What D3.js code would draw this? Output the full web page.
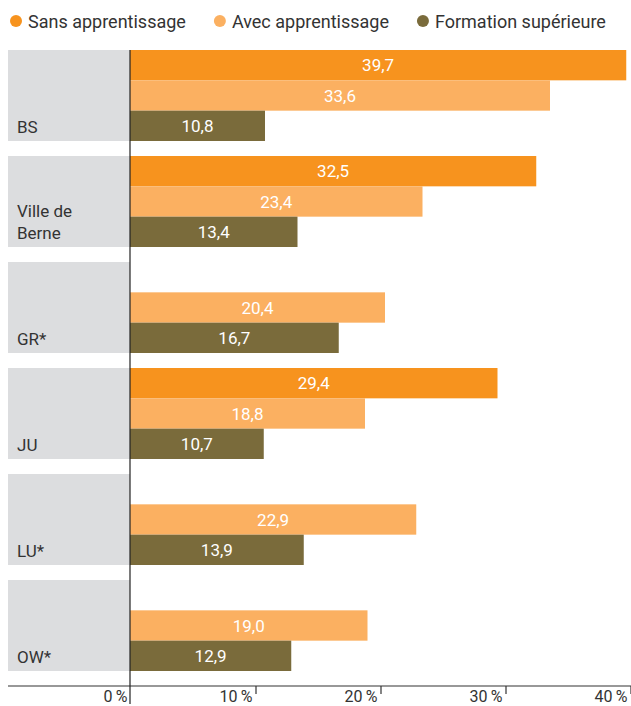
<!DOCTYPE html>
<html>
<head>
<meta charset="utf-8">
<script src="https://cdn.jsdelivr.net/npm/d3@7"></script>
<style>
  html, body { margin: 0; padding: 0; background: #fff; }
  svg { display: block; font-family: Roboto, "Noto Sans", sans-serif; }
</style>
</head>
<body>
<svg id="chart" width="631" height="706"></svg>
<script>
// Share of people (%) per region and education level
const regions = ["BS", "Ville de Berne", "GR*", "JU", "LU*", "OW*"];
const regionLines = [["BS"], ["Ville de", "Berne"], ["GR*"], ["JU"], ["LU*"], ["OW*"]];
const seriesNames = ["Sans apprentissage", "Avec apprentissage", "Formation supérieure"];
const sansApprentissage = [39.7, 32.5, null, 29.4, null, null];
const avecApprentissage = [33.6, 23.4, 20.4, 18.8, 22.9, 19.0];
const formationSuperieure = [10.8, 13.4, 16.7, 10.7, 13.9, 12.9];
const tickValues = [0, 10, 20, 30, 40];
const colors = ["#f7931e", "#fbb061", "#7a6b3b"];

const series = [sansApprentissage, avecApprentissage, formationSuperieure];

const svg = d3.select("#chart");
const fmt = v => d3.format(".1f")(v).replace(".", ",");

const x = d3.scaleLinear().domain([0, 40]).range([130, 630]);
const groupY = d3.scaleBand().domain(regions).range([50, 671]).paddingInner(15 / 106).paddingOuter(0);
const barY = d3.scaleBand().domain(seriesNames).range([0, groupY.bandwidth()]);

// Legend
const legend = svg.append("g").attr("class", "legend");
let lx = 16;
seriesNames.forEach((name, i) => {
  legend.append("circle").attr("cx", lx).attr("cy", 21).attr("r", 6).attr("fill", colors[i]);
  const t = legend.append("text").attr("x", lx + 12).attr("y", 27.5)
    .attr("font-size", 18).attr("fill", "#333").text(name);
  lx += 12 + t.node().getComputedTextLength() + 34;
});

// Region groups
const groups = svg.append("g").selectAll("g").data(regions).join("g")
  .attr("transform", d => `translate(0,${groupY(d)})`);

groups.append("rect").attr("x", 8).attr("y", 0)
  .attr("width", x(0) - 8).attr("height", groupY.bandwidth()).attr("fill", "#dcdddf");

groups.each(function(region, ri) {
  const g = d3.select(this);
  const lines = regionLines[ri];
  lines.forEach((line, li) => {
    g.append("text").attr("x", 17)
      .attr("y", groupY.bandwidth() - 8 - (lines.length - 1 - li) * 22)
      .attr("font-size", 17).attr("fill", "#333").text(line);
  });
  series.forEach((vals, si) => {
    const v = vals[ri];
    if (v == null) return;
    g.append("rect").attr("x", x(0)).attr("y", barY(seriesNames[si]))
      .attr("width", x(v) - x(0)).attr("height", barY.bandwidth()).attr("fill", colors[si]);
    g.append("text").attr("x", (x(0) + x(v)) / 2)
      .attr("y", barY(seriesNames[si]) + barY.bandwidth() / 2 + 6)
      .attr("text-anchor", "middle").attr("font-size", 17).attr("fill", "#fff")
      .text(fmt(v));
  });
});

// Axis
const axisY = 686;
svg.append("line").attr("x1", 8).attr("x2", 631).attr("y1", axisY).attr("y2", axisY)
  .attr("stroke", "#333").attr("stroke-width", 1.2);
svg.append("line").attr("x1", x(0)).attr("x2", x(0)).attr("y1", 50).attr("y2", 704)
  .attr("stroke", "#222").attr("stroke-width", 1.2);

const axis = d3.axisBottom(x).tickValues(tickValues).tickSize(8).tickFormat(d => d + "\u2009%");
const ag = svg.append("g").attr("transform", `translate(0,${axisY})`).call(axis);
ag.select(".domain").remove();
ag.selectAll(".tick line").attr("stroke", "#333").attr("stroke-width", 1.2)
  .attr("x1", 0.5).attr("x2", 0.5);
ag.selectAll(".tick").filter(d => d === 0).select("line").remove();
ag.selectAll(".tick text").attr("font-size", 16).attr("fill", "#333")
  .attr("font-family", "Roboto, sans-serif")
  .attr("text-anchor", "end").attr("x", -3).attr("y", 16).attr("dy", 0);
</script>
</body>
</html>
